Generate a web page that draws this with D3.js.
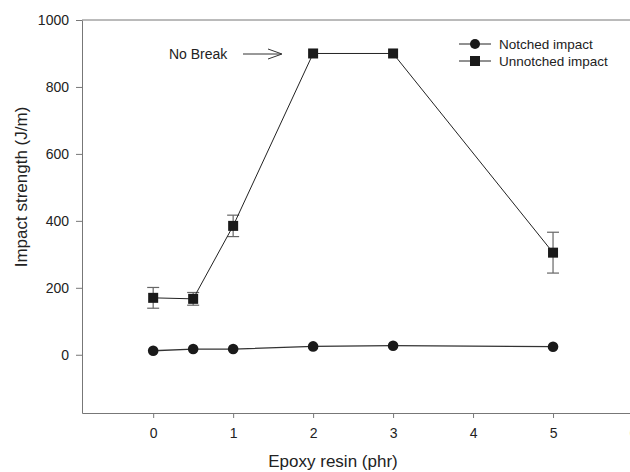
<!DOCTYPE html>
<html>
<head>
<meta charset="utf-8">
<title>Impact strength vs epoxy resin</title>
<style>
  body { margin: 0; background: #fff; }
  svg text { font-family: Arial, "Liberation Sans", sans-serif; fill: #222; }
  .axis path, .axis line { stroke: #777; }
</style>
<script src="https://d3js.org/d3.v7.min.js"></script>
</head>
<body>
<script>
// data
var resin = [0, 0.5, 1, 2, 3, 5];
var notched = [12, 17, 17, 25, 27, 24];
var unnotched = [170, 167, 385, 900, 900, 305];
var unnotchedErr = [31, 19, 32, null, null, 61];
var xTicks = [0, 1, 2, 3, 4, 5, 6];
var yTicks = [0, 200, 400, 600, 800, 1000];

var W = 630, H = 472;
var svg = d3.select("body").append("svg").attr("width", W).attr("height", H);

var x = d3.scaleLinear().domain([-0.89, 6.2]).range([82, 649]);
var y = d3.scaleLinear().domain([-174, 1000]).range([413, 20]);

// frame (top and left lines; right side runs off the picture)
svg.append("line").attr("x1", x(-0.89)).attr("x2", W + 20)
  .attr("y1", y(1000)).attr("y2", y(1000)).attr("stroke", "#777");

var xAxis = svg.append("g").attr("class", "axis")
  .attr("transform", "translate(0," + y(-174) + ")")
  .call(d3.axisBottom(x).tickValues(xTicks).tickFormat(d3.format("d"))
    .tickSize(5).tickSizeOuter(0).tickPadding(10));
xAxis.selectAll("text").style("font-size", "14px");

var yAxis = svg.append("g").attr("class", "axis")
  .attr("transform", "translate(" + x(-0.89) + ",0)")
  .call(d3.axisLeft(y).tickValues(yTicks).tickFormat(d3.format("d"))
    .tickSize(6).tickSizeOuter(0).tickPadding(7));
yAxis.selectAll("text").style("font-size", "14px");

svg.append("text").attr("x", 333).attr("y", 467).attr("text-anchor", "middle")
  .style("font-size", "17px").text("Epoxy resin (phr)");
svg.append("text").attr("transform", "translate(27," + 187 + ") rotate(-90)")
  .attr("text-anchor", "middle").style("font-size", "17px").text("Impact strength (J/m)");

var line = d3.line().x(function(d) { return x(d[0]); }).y(function(d) { return y(d[1]); });

// error bars
var err = resin.map(function(r, i) { return [r, unnotched[i], unnotchedErr[i]]; })
  .filter(function(d) { return d[2] != null; });
var eb = svg.append("g").attr("stroke", "#666").attr("stroke-width", 1.2);
err.forEach(function(d) {
  eb.append("line").attr("x1", x(d[0])).attr("x2", x(d[0]))
    .attr("y1", y(d[1] - d[2])).attr("y2", y(d[1] + d[2]));
  [d[1] - d[2], d[1] + d[2]].forEach(function(v) {
    eb.append("line").attr("x1", x(d[0]) - 6).attr("x2", x(d[0]) + 6)
      .attr("y1", y(v)).attr("y2", y(v));
  });
});

svg.append("path").datum(resin.map(function(r, i) { return [r, notched[i]]; }))
  .attr("d", line).attr("fill", "none").attr("stroke", "#333").attr("stroke-width", 1.3);
svg.append("path").datum(resin.map(function(r, i) { return [r, unnotched[i]]; }))
  .attr("d", line).attr("fill", "none").attr("stroke", "#222").attr("stroke-width", 1);

svg.selectAll(".dot").data(resin).enter().append("circle")
  .attr("cx", function(d) { return x(d); })
  .attr("cy", function(d, i) { return y(notched[i]); })
  .attr("r", 5.3).attr("fill", "#1a1a1a");
svg.selectAll(".sq").data(resin).enter().append("rect")
  .attr("x", function(d) { return x(d) - 5; })
  .attr("y", function(d, i) { return y(unnotched[i]) - 5; })
  .attr("width", 10).attr("height", 10).attr("fill", "#1a1a1a");

// "No Break" annotation
svg.append("text").attr("x", 169).attr("y", 59).style("font-size", "14px").text("No Break");
svg.append("line").attr("x1", 243).attr("x2", 281).attr("y1", 54).attr("y2", 54).attr("stroke", "#333");
svg.append("path").attr("d", "M268,49 L282,54 L268,59").attr("fill", "none").attr("stroke", "#333");

// legend
var legend = [["Notched impact", "circle"], ["Unnotched impact", "square"]];
legend.forEach(function(l, i) {
  var ly = 44 + i * 17;
  svg.append("line").attr("x1", 459).attr("x2", 491).attr("y1", ly).attr("y2", ly).attr("stroke", "#222");
  if (l[1] == "circle") svg.append("circle").attr("cx", 475).attr("cy", ly).attr("r", 5).attr("fill", "#1a1a1a");
  else svg.append("rect").attr("x", 470).attr("y", ly - 5).attr("width", 10).attr("height", 10).attr("fill", "#1a1a1a");
  svg.append("text").attr("x", 499).attr("y", ly + 5).style("font-size", "13.5px").text(l[0]);
});
</script>
</body>
</html>
